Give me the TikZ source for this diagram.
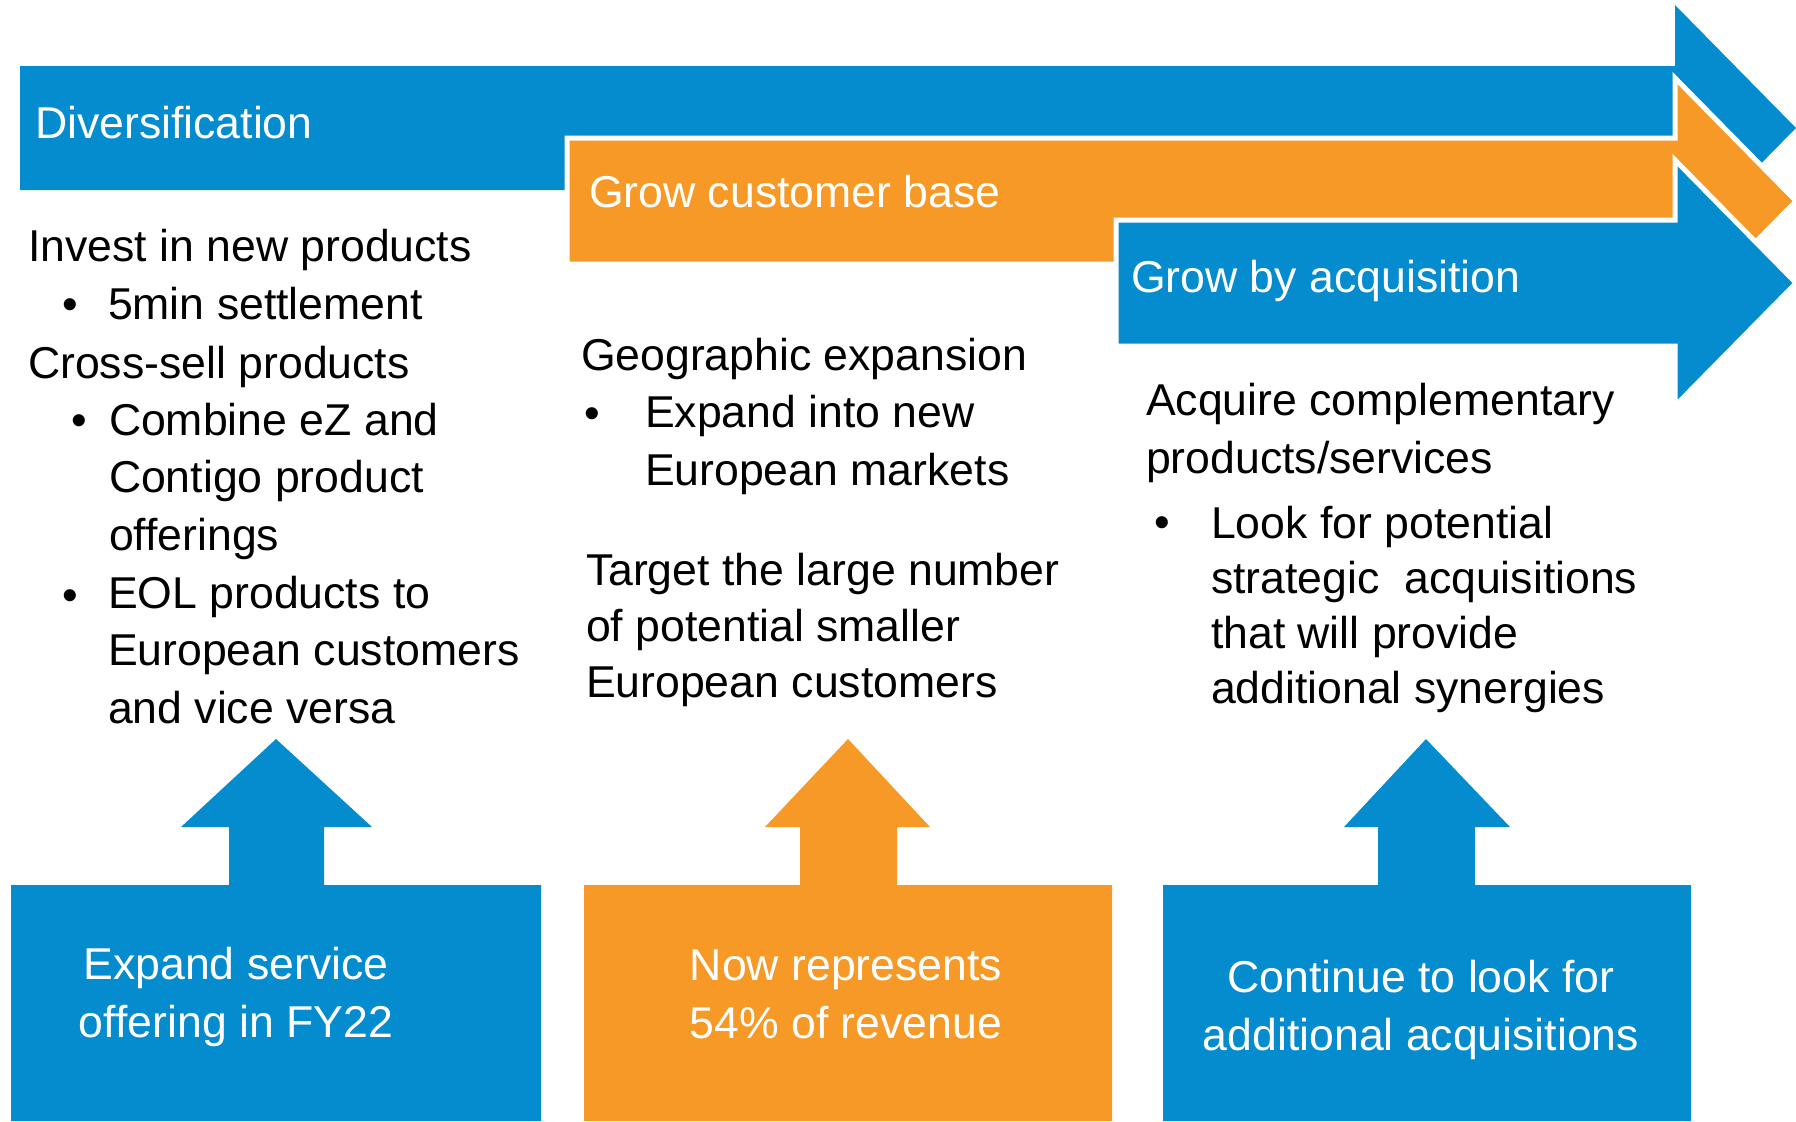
\documentclass[tikz,border=0pt]{standalone}
\usepackage{fontspec}
\setmainfont{Liberation Sans}
\usepackage{tikz}
\definecolor{stratblue}{RGB}{5,140,206}
\definecolor{stratorange}{RGB}{246,153,38}

\begin{document}
\begin{tikzpicture}[x=0.5pt,y=-0.5pt,
                    every node/.style={inner sep=0pt,outer sep=0pt,anchor=base west,
                                       font=\fontsize{22.3}{28.75}\selectfont}]
  \tikzstyle{band}=[line width=2.5pt,draw=white,line join=miter]
  \tikzstyle{head}=[text=white]
  \tikzstyle{body}=[text=black,align=left]
  \tikzstyle{foot}=[text=white,align=center,anchor=base]

  \useasboundingbox (0,0) rectangle (1796,1121);

  % the three strategy bands
  \fill[stratblue] (20,66) -- (1675,66) -- (1675,5) -- (1796,128) -- (1675,251)
                   -- (1675,190) -- (20,190) -- cycle;
  \filldraw[band,fill=stratorange] (567,138) -- (1675,138) -- (1675,78) -- (1796,201)
                   -- (1675,324) -- (1675,264) -- (567,264) -- cycle;
  \filldraw[band,fill=stratblue] (1116,220) -- (1675,220) -- (1675,160) -- (1796,283)
                   -- (1675,406) -- (1675,346) -- (1116,346) -- cycle;

  % boxes with up arrows
  \fill[stratblue] (11,1121) -- (11,885) -- (229,885) -- (229,827) -- (181,827) -- (276,739)
                   -- (372,827) -- (324,827) -- (324,885) -- (541,885) -- (541,1121) -- cycle;
  \fill[stratorange] (584,1121) -- (584,885) -- (800,885) -- (800,827) -- (765,827) -- (848,739)
                   -- (930,827) -- (897,827) -- (897,885) -- (1112,885) -- (1112,1121) -- cycle;
  \fill[stratblue] (1163,1121) -- (1163,885) -- (1378,885) -- (1378,827) -- (1344,827) -- (1426,739)
                   -- (1510,827) -- (1475,827) -- (1475,885) -- (1691,885) -- (1691,1121) -- cycle;

  \node[head] (div)  at (35,138)  {Diversification};
  \node[head] (grow) at (589,207) {Grow customer base};
  \node[head] (acq)  at (1131,292) {Grow by acquisition};

  % diversification (multi-line nodes sit on their last line)
  \node[body] (inv)  at (28,261)  {Invest in new products};
  \node[body] (b1)   at (62,319)  {\textbullet};
  \node[body] (fmin) at (108,319) {5min settlement};
  \node[body] (xs)   at (28,378)  {Cross-sell products};
  \node[body] (b2)   at (71,435)  {\textbullet};
  \node[body] (comb) at (109,550) {Combine eZ and\\Contigo product\\offerings};
  \node[body] (b3)   at (62,610)  {\textbullet};
  \node[body] (eol)  at (108,723) {EOL products to\\European customers\\and vice versa};

  % customer base
  \node[body] (geo)  at (581,370) {Geographic expansion};
  \node[body] (b4)   at (584,428) {\textbullet};
  \node[body] (new)  at (645,485) {Expand into new\\European markets};
  \node[body,font=\fontsize{22.3}{28}\selectfont]
             (tgt)  at (586,697) {Target the large number\\of potential smaller\\European customers};

  % acquisition
  \node[body] (cmp)  at (1146,473) {Acquire complementary\\products/services};
  \node[body] (b5)   at (1154,537) {\textbullet};
  \node[body,font=\fontsize{22.3}{27.5}\selectfont]
             (look) at (1211,703) {Look for potential\\strategic\ \ acquisitions\\that will provide\\additional synergies};

  % box texts
  \node[foot] (fy)   at (236,1037)  {Expand service\\offering in FY22};
  \node[foot] (rev)  at (846,1038)  {Now represents\\54\% of revenue};
  \node[foot] (more) at (1421,1050) {Continue to look for\\additional acquisitions};
\end{tikzpicture}
\end{document}
